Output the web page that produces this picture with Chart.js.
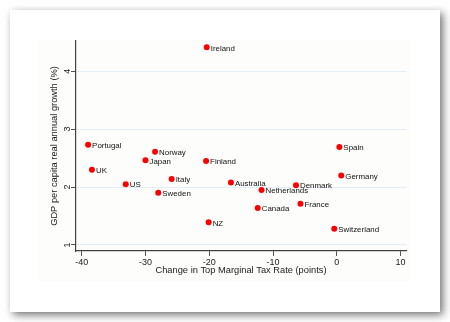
<!DOCTYPE html>
<html>
<head>
<meta charset="utf-8">
<script src="https://cdn.jsdelivr.net/npm/chart.js@4"></script>
<style>
    html, body { margin: 0; padding: 0; background: #fff; }
    #wrap { position: relative; width: 450px; height: 322px; overflow: hidden; }
    #card {
        position: absolute; left: 10px; top: 10px; width: 430px; height: 302px;
        background: #fff; box-shadow: 3px 3px 8px rgba(0, 0, 0, 0.55);
    }
    #plotBg { position: absolute; left: 38px; top: 40px; width: 372px; height: 242px; background: #fdfdfb; }
    canvas { position: absolute; left: 0; top: 0; }
</style>
</head>
<body>
<div id="wrap">
    <div id="card"></div>
    <div id="plotBg"></div>
    <canvas id="taxChart" width="450" height="322"></canvas>
</div>
<script>
const countries = ['Ireland', 'Portugal', 'Norway', 'Japan', 'Finland', 'UK', 'Italy', 'US', 'Sweden', 'NZ',
    'Spain', 'Germany', 'Australia', 'Denmark', 'Netherlands', 'France', 'Canada', 'Switzerland'];
const taxChange = [-20.4, -39.0, -28.5, -30.0, -20.5, -38.4, -25.9, -33.1, -28.0, -20.1,
    0.4, 0.7, -16.6, -6.4, -11.8, -5.7, -12.4, -0.4];
const gdpGrowth = [4.41, 2.73, 2.61, 2.46, 2.45, 2.30, 2.14, 2.05, 1.90, 1.39,
    2.69, 2.20, 2.08, 2.03, 1.95, 1.71, 1.64, 1.28];
const xTicks = [-40, -30, -20, -10, 0, 10];
const yTicks = [1, 2, 3, 4];

Chart.defaults.font.family = "'Liberation Sans', Arial, sans-serif";

// nom des pays à droite de chaque point
const pointLabels = {
    id: 'pointLabels',
    afterDatasetsDraw(chart) {
        const {ctx} = chart;
        const meta = chart.getDatasetMeta(0);
        ctx.save();
        ctx.font = "7.9px 'Liberation Sans', Arial, sans-serif";
        ctx.fillStyle = '#111';
        ctx.textBaseline = 'middle';
        meta.data.forEach((pt, i) => {
            ctx.fillText(countries[i], pt.x + 4, pt.y + 1);
        });
        ctx.restore();
    }
};

const ctx = document.getElementById('taxChart').getContext('2d');
new Chart(ctx, {
    type: 'scatter',
    data: {
        datasets: [{
            data: taxChange.map((x, i) => ({x, y: gdpGrowth[i]})),
            backgroundColor: '#ff0000',
            borderWidth: 0,
            pointRadius: 3,
            clip: false
        }]
    },
    options: {
        responsive: false,
        animation: false,
        layout: {padding: {top: 41, right: 44, left: 0, bottom: 0}},
        plugins: {legend: {display: false}, tooltip: {enabled: false}},
        scales: {
            x: {
                type: 'linear',
                min: -40.9,
                max: 10.85,
                afterBuildTicks: s => { s.ticks = xTicks.map(v => ({value: v})); },
                afterFit: s => { s.height = 71; },
                grid: {drawOnChartArea: false, tickLength: 5, tickColor: '#555'},
                border: {color: '#444', width: 1.2},
                ticks: {font: {size: 9}, color: '#1a1a1a', padding: 1, maxRotation: 0},
                title: {
                    display: true,
                    text: 'Change in Top Marginal Tax Rate (points)',
                    font: {size: 9.3},
                    color: '#1a1a1a',
                    padding: {top: 0, bottom: 46}
                }
            },
            y: {
                type: 'linear',
                min: 0.896,
                max: 4.52,
                afterBuildTicks: s => { s.ticks = yTicks.map(v => ({value: v})); },
                afterFit: s => { s.width = 76; },
                grid: {color: '#e4eef9', tickColor: '#555', tickLength: 5},
                border: {color: '#444', width: 1.2},
                ticks: {font: {size: 9}, color: '#1a1a1a', padding: 1, minRotation: 90, maxRotation: 90, crossAlign: 'center'},
                title: {
                    display: true,
                    text: 'GDP per capita real annual growth (%)',
                    font: {size: 9.3},
                    color: '#1a1a1a',
                    padding: {top: 48.4, bottom: 0}
                }
            }
        }
    },
    plugins: [pointLabels]
});
</script>
</body>
</html>
